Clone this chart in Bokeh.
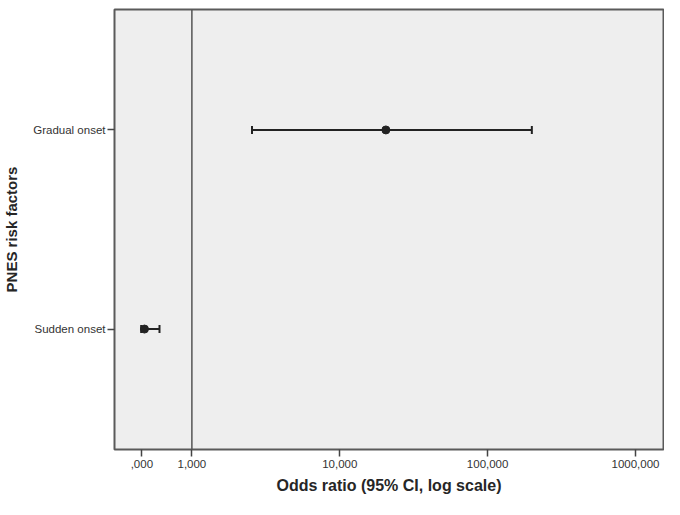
import math
from bokeh.plotting import figure
from bokeh.models import FixedTicker, Span, ColumnDataSource, FactorRange
from bokeh.embed import file_html
from bokeh.resources import INLINE

# ---- data ----
factors = ["Sudden onset", "Gradual onset"]
odds_ratio = [0.478, 20.5]
ci_lower = [0.454, 2.55]
ci_upper = [0.604, 199.0]
tick_values = [0.459, 1, 10, 100, 1000]
tick_labels = [",000", "1,000", "10,000", "100,000", "1000,000"]
reference_or = 1

src = ColumnDataSource(dict(cat=factors, orr=odds_ratio, lo=ci_lower, hi=ci_upper))

FONT = "Liberation Sans"
INK = "#222222"

p = figure(width=664, height=499, x_axis_type="log", x_range=(0.2997, 1546),
           y_range=FactorRange(factors=factors, range_padding=0.105,
                               range_padding_units="absolute"),
           output_backend="svg", toolbar_location=None,
           min_border_left=114, min_border_right=1, min_border_top=9,
           min_border_bottom=50)

p.background_fill_color = "#eeeeee"
p.border_fill_color = "white"
p.outline_line_color = "#5a5a5a"
p.outline_line_width = 2
p.grid.visible = False

ref = Span(location=reference_or, dimension="height", line_color="#555555",
           line_width=1.5, level="underlay")
p.add_layout(ref)

p.segment(x0="lo", y0="cat", x1="hi", y1="cat", source=src,
          line_color=INK, line_width=2)
p.scatter(x="lo", y="cat", source=src, marker="dash", angle=math.pi / 2,
          size=8, line_color=INK, line_width=2)
p.scatter(x="hi", y="cat", source=src, marker="dash", angle=math.pi / 2,
          size=8, line_color=INK, line_width=2)
p.scatter(x="orr", y="cat", source=src, marker="circle", size=8,
          fill_color=INK, line_color=INK)

# x axis
xa = p.xaxis[0]
xa.ticker = FixedTicker(ticks=tick_values, minor_ticks=[])
xa.major_label_overrides = {v: l for v, l in zip(tick_values, tick_labels)}
xa.axis_label = "Odds ratio (95% CI, log scale)"
xa.axis_label_text_font = FONT
xa.axis_label_text_font_size = "16px"
xa.axis_label_text_font_style = "bold"
xa.axis_label_text_color = "#262626"
xa.axis_label_standoff = 6
xa.major_label_text_font = FONT
xa.major_label_text_font_size = "11.5px"
xa.major_label_text_color = "#333333"
xa.major_label_standoff = 3
xa.major_tick_out = 7
xa.major_tick_in = 0
xa.major_tick_line_color = "#444444"
xa.major_tick_line_width = 1.5
xa.axis_line_color = None

# y axis
ya = p.yaxis[0]
ya.axis_label = "PNES risk factors"
ya.axis_label_text_font = FONT
ya.axis_label_text_font_size = "15px"
ya.axis_label_text_font_style = "bold"
ya.axis_label_text_color = "#262626"
ya.axis_label_standoff = 10
ya.major_label_text_font = FONT
ya.major_label_text_font_size = "11.5px"
ya.major_label_text_color = "#333333"
ya.major_label_standoff = 2
ya.major_tick_out = 7
ya.major_tick_in = 0
ya.major_tick_line_color = "#444444"
ya.major_tick_line_width = 1.5
ya.axis_line_color = None

open("out.html", "w").write(file_html(p, INLINE))
